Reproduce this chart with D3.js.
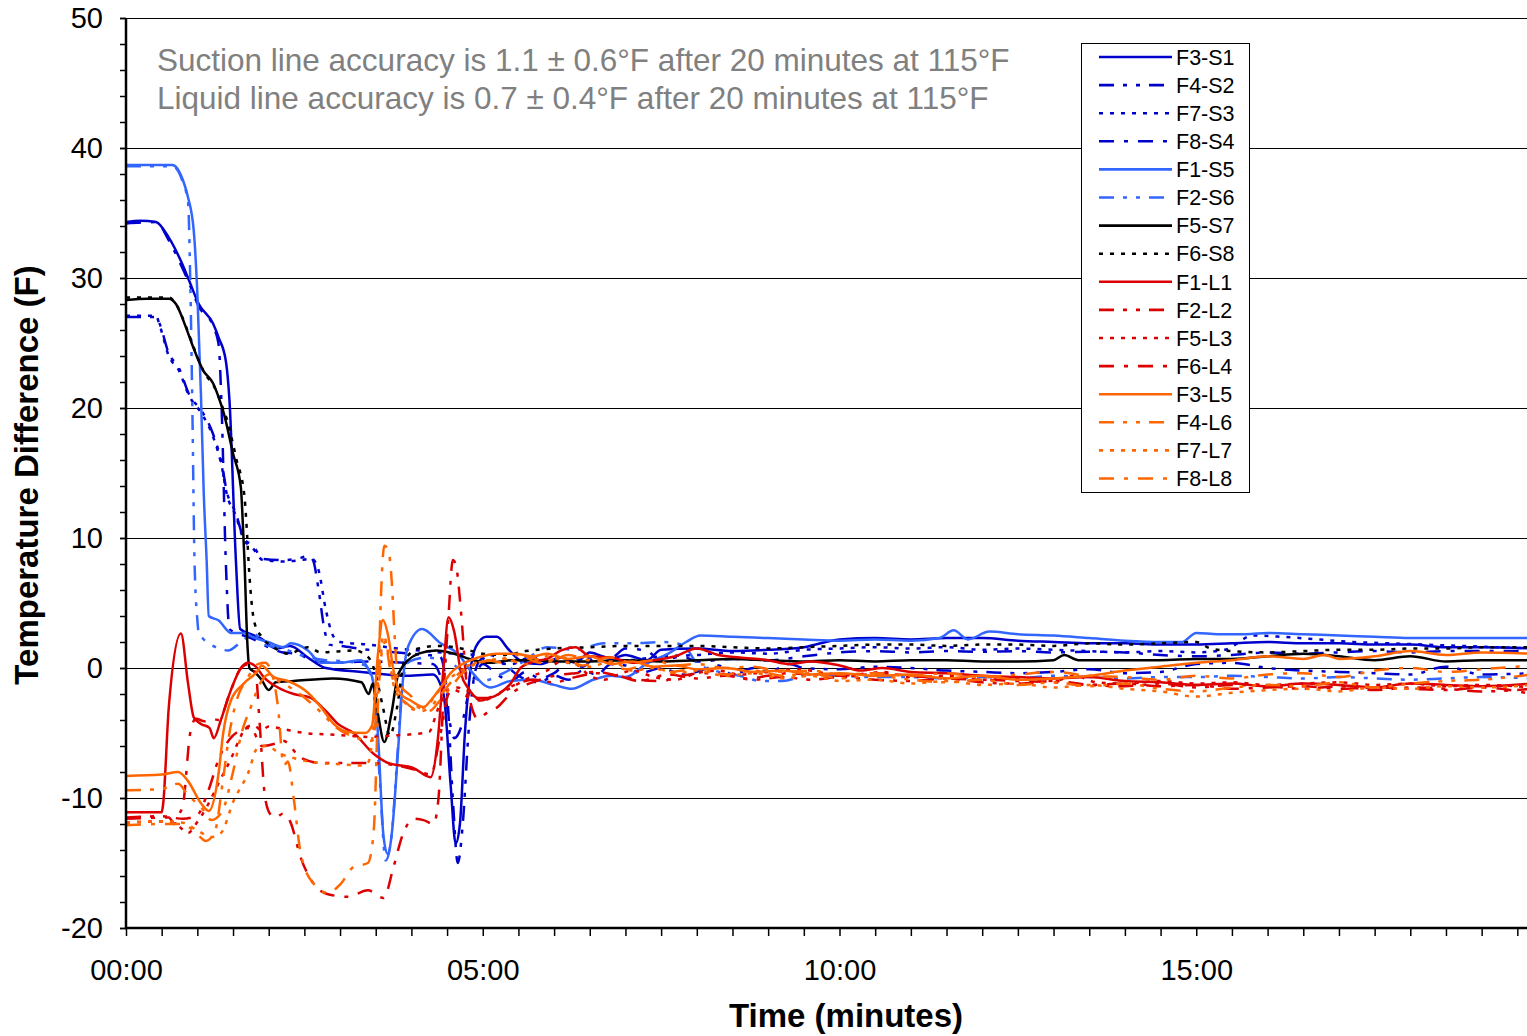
<!DOCTYPE html>
<html>
<head>
<meta charset="utf-8">
<script src="https://cdn.jsdelivr.net/npm/d3@7"></script>
<style>
body { margin: 0; background: #fff; }
svg { display: block; font-family: Arial, "Liberation Sans", sans-serif; }
</style>
</head>
<body>
<svg width="1527" height="1036"></svg>
<script>
const width = 1527;
const height = 1036;

// legend order
const seriesNames = ["F3-S1", "F4-S2", "F7-S3", "F8-S4", "F1-S5", "F2-S6", "F5-S7", "F6-S8",
    "F1-L1", "F2-L2", "F5-L3", "F6-L4", "F3-L5", "F4-L6", "F7-L7", "F8-L8"];

// [minutes, temperature difference F]
const f3s1 = [[0,34.3],[0.2,34.4],[0.42,34.3],[0.6,33.1],[0.77,31.3],[0.87,30.0],[1.02,28.0],[1.22,26.5],[1.3,25.4],[1.4,23.6],[1.45,20.6],[1.54,8.3],[1.6,3.0],[1.75,2.6],[1.9,2.25],[2.1,1.5],[2.3,1.7],[2.55,0.8],[2.8,0.0],[3.3,-0.3],[3.9,-0.6],[4.3,-0.5],[4.45,-2],[4.55,-9],[4.62,-13.5],[4.68,-12],[4.75,-5],[4.82,-0.5],[4.9,1.6],[5.05,2.4],[5.2,2.4],[5.35,1.5],[5.55,0.5],[5.8,0.3],[6.1,0.8],[6.3,0.4],[6.5,1.2],[6.8,0.7],[7,1.0],[7.3,0.6],[7.5,1.4],[8,1.5],[8.5,1.3],[9,1.4],[9.5,1.6],[10,2.2],[10.5,2.3],[11,2.2],[11.5,2.3],[12,2.3],[12.5,2.1],[13,2.0],[13.5,1.9],[14,1.9],[14.5,1.8],[15,1.8],[15.5,1.9],[16,2.0],[16.5,1.9],[17,1.9],[17.5,1.8],[18,1.8],[18.5,1.6],[19,1.6],[19.7,1.5]];
const f4s2 = [[0,27.0],[0.42,27.0],[0.47,26.5],[0.6,24.2],[0.74,23.1],[0.88,21.1],[1.08,19.6],[1.22,18.0],[1.36,15.2],[1.4,13.9],[1.54,11.9],[1.65,10.0],[1.78,9.4],[1.92,8.4],[2.2,8.3],[2.4,8.4],[2.55,8.6],[2.62,8.3],[2.7,6],[2.78,3],[2.85,1.8],[3.0,1.7],[3.4,1.4],[3.8,1.2],[4.2,1.0],[4.4,0.9],[4.5,-2],[4.58,-10],[4.65,-15.0],[4.72,-12],[4.8,-5],[4.87,-1],[4.95,0.5],[5.1,1.0],[5.3,0.3],[5.5,-0.6],[5.8,-1.1],[6.0,-0.6],[6.2,-0.9],[6.4,-0.2],[6.6,-0.5],[6.8,0.3],[7.0,0.2],[7.2,-0.4],[7.5,0.0],[7.8,-0.5],[8,-0.3],[8.3,0.2],[8.5,-0.5],[8.8,0.0],[9,-0.3],[9.3,0.3],[9.5,0.0],[10,-0.1],[10.5,0.1],[11,0.0],[11.5,-0.2],[12,-0.3],[12.5,-0.4],[13,-0.3],[13.5,-0.1],[14,-0.4],[14.5,-0.3],[15,0.3],[15.5,0.4],[16,0.0],[16.5,-0.2],[17,-0.3],[17.5,-0.4],[18,-0.5],[18.5,0.1],[19,-0.5],[19.7,-0.4]];
const f7s3 = [[0,27.1],[0.42,27.1],[0.47,26.4],[0.6,24.0],[0.74,22.9],[0.88,21.0],[1.08,19.4],[1.22,17.8],[1.36,15.0],[1.4,13.7],[1.54,11.7],[1.65,9.9],[1.78,9.2],[1.92,8.3],[2.2,8.2],[2.45,8.3],[2.6,8.4],[2.7,7.5],[2.8,4.5],[2.9,2.5],[3.0,2.0],[3.4,1.8],[3.8,1.5],[4.2,1.3],[4.6,1.1],[4.9,1.0],[5.1,0.5],[5.4,0.3],[5.7,0.9],[6.0,0.5],[6.5,0.8],[7,0.6],[7.5,0.9],[8,1.0],[8.5,1.2],[9,1.1],[9.5,1.4],[10,1.5],[10.5,1.6],[11,1.5],[11.5,1.6],[12,1.4],[12.5,1.5],[13,1.4],[13.5,1.3],[14,1.2],[14.5,1.3],[15,1.2],[15.4,1.4],[15.8,2.5],[16.2,2.4],[16.7,2.2],[17.2,2.0],[17.7,1.9],[18.2,1.8],[18.7,1.7],[19.2,1.6],[19.7,1.5]];
const f8s4 = [[0,34.2],[0.42,34.3],[0.6,32.9],[0.77,31.0],[0.87,29.8],[1.02,27.8],[1.22,26.3],[1.3,24.8],[1.34,20],[1.4,8],[1.45,3.0],[1.55,2.7],[1.75,2.3],[2.0,1.6],[2.2,1.2],[2.4,1.1],[2.6,0.6],[2.9,0.4],[3.4,0.5],[3.9,0.4],[4.3,0.3],[4.45,-1.5],[4.55,-4.5],[4.6,-5.4],[4.7,-4.5],[4.8,-2],[4.9,-0.5],[5.0,0.3],[5.2,-0.5],[5.4,-1.0],[5.6,-0.3],[5.8,-0.8],[6.0,-0.4],[6.2,0.4],[6.4,0.1],[6.6,0.9],[6.8,0.8],[7.0,1.5],[7.3,1.3],[7.5,0.6],[7.8,0.9],[8.0,0.5],[8.5,0.7],[9,0.6],[9.5,0.9],[10,1.2],[10.5,1.3],[11,1.2],[11.5,1.3],[12,1.25],[12.5,1.3],[13,1.2],[13.5,1.25],[14,1.2],[14.5,1.0],[15,0.9],[15.5,1.0],[16,1.2],[16.5,1.1],[17,1.2],[17.5,1.3],[18,1.2],[18.5,1.3],[19,1.3],[19.7,1.3]];
const f1s5 = [[0,38.7],[0.65,38.7],[0.8,37.5],[0.87,36.2],[0.95,33.6],[1.0,28.8],[1.05,21.1],[1.09,13.4],[1.13,8.3],[1.16,4.0],[1.3,3.65],[1.47,2.7],[1.65,2.7],[1.79,2.35],[1.99,2.0],[2.21,1.6],[2.31,1.9],[2.55,1.35],[2.73,0.4],[3.0,0.4],[3.29,0.6],[3.39,0.0],[3.45,-0.7],[3.53,-5],[3.61,-13],[3.67,-14.3],[3.73,-12.5],[3.81,-6.6],[3.88,-1.0],[3.95,1.6],[4.15,3.0],[4.41,1.9],[4.65,1.1],[4.83,-0.2],[5.11,-1.5],[5.39,-1.0],[5.7,-0.9],[6.0,-1.3],[6.25,-1.6],[6.55,-0.9],[6.8,-0.6],[7.0,-0.7],[7.3,0.35],[7.6,1.1],[7.85,2.0],[8.05,2.5],[8.5,2.4],[9.0,2.3],[9.5,2.2],[10,2.1],[10.5,2.2],[11,2.1],[11.4,2.3],[11.6,2.9],[11.8,2.2],[12.1,2.8],[12.5,2.6],[13,2.5],[13.5,2.3],[14,2.1],[14.5,2.0],[14.8,2.0],[15.0,2.7],[15.3,2.6],[15.7,2.6],[16.0,2.7],[16.5,2.6],[17,2.5],[17.5,2.4],[18,2.3],[18.5,2.3],[19,2.3],[19.7,2.3]];
const f2s6 = [[0,38.6],[0.65,38.6],[0.8,37.3],[0.87,35.8],[0.9,30],[0.93,20],[0.96,8.3],[1.0,3.7],[1.02,2.65],[1.08,2.25],[1.26,1.6],[1.43,1.35],[1.61,2.0],[1.79,2.65],[1.95,1.8],[2.2,1.5],[2.45,1.0],[2.8,0.6],[3.1,0.5],[3.35,0.2],[3.45,-1],[3.55,-8],[3.64,-14.8],[3.72,-13],[3.8,-7],[3.88,-1],[3.97,0.5],[4.2,0.8],[4.5,0.5],[4.8,-0.5],[5.0,-1.0],[5.25,-0.5],[5.6,0.6],[5.9,1.6],[6.3,1.4],[6.7,1.9],[7.1,1.9],[7.5,2.0],[7.8,1.8],[8.0,0.4],[8.25,-0.2],[8.6,-0.6],[8.9,-1.0],[9.2,-1.0],[9.6,-0.5],[10,-0.6],[10.5,-0.7],[11,-0.7],[11.5,-0.8],[12,-0.7],[12.5,-0.8],[13,-0.6],[13.5,-0.7],[14,-0.8],[14.5,-0.7],[15,-0.7],[15.5,-0.6],[16,-0.7],[16.5,-0.8],[17,-0.7],[17.5,-0.8],[18,-0.9],[18.5,-0.8],[19,-0.7],[19.7,-0.8]];
const f5s7 = [[0,28.3],[0.3,28.4],[0.6,28.4],[0.7,28.0],[0.84,26.2],[0.94,24.7],[1.08,22.9],[1.22,21.9],[1.3,20.8],[1.37,19.6],[1.5,16.5],[1.61,13.9],[1.64,10.8],[1.66,8.3],[1.7,2],[1.73,0],[1.8,-0.3],[1.9,-0.9],[2.0,-1.7],[2.1,-1.1],[2.35,-1.0],[2.9,-0.8],[3.3,-1.1],[3.4,-2.0],[3.46,-1.2],[3.53,-3.5],[3.62,-5.7],[3.72,-3.5],[3.82,-0.4],[4.1,1.1],[4.35,1.35],[4.6,1.1],[4.87,0.6],[5.1,0.4],[5.4,0.6],[5.7,0.6],[6,0.5],[6.5,0.5],[7,0.6],[7.5,0.5],[8,0.6],[8.5,0.7],[9,0.6],[9.5,0.5],[10,0.6],[10.5,0.5],[11,0.6],[11.5,0.6],[12,0.5],[12.5,0.5],[13,0.6],[13.15,1.0],[13.35,0.6],[14,0.6],[14.5,0.6],[15,0.7],[15.5,0.7],[16,0.9],[16.5,1.1],[17,0.9],[17.5,0.6],[18,0.9],[18.5,0.5],[19,0.6],[19.7,0.6]];
const f6s8 = [[0,28.5],[0.6,28.5],[0.72,27.8],[0.86,26.0],[0.96,24.5],[1.1,22.7],[1.24,21.6],[1.33,20.4],[1.42,19.0],[1.55,16.0],[1.66,13.2],[1.7,10.0],[1.72,8.0],[1.8,3.5],[1.9,2.4],[2.07,1.6],[2.27,1.1],[2.55,1.6],[2.73,1.2],[3.2,1.35],[3.4,0.8],[3.5,-0.5],[3.6,-3],[3.7,-5.2],[3.8,-3],[3.9,0.5],[4.1,1.5],[4.4,1.7],[4.7,1.5],[5.0,1.1],[5.3,1.0],[5.6,1.3],[6.0,1.5],[6.5,1.6],[7,1.7],[7.5,1.7],[8,1.7],[8.5,1.6],[9,1.5],[9.5,1.6],[10,1.7],[10.5,1.8],[11,1.8],[11.5,1.7],[12,1.8],[12.5,1.8],[13,1.7],[13.5,1.9],[14,1.8],[14.5,1.9],[15,2.0],[15.2,1.5],[15.5,1.3],[16,1.2],[16.5,1.3],[17,1.4],[17.5,1.4],[18,1.5],[18.5,1.5],[19,1.6],[19.7,1.6]];
const f1l1 = [[0,-11.1],[0.5,-11.1],[0.52,-10.5],[0.6,-3],[0.77,2.65],[0.87,-1.2],[0.95,-3.8],[1.05,-4.3],[1.17,-4.6],[1.23,-5.4],[1.33,-4.0],[1.47,-1.7],[1.61,0],[1.71,0.4],[1.82,0.1],[1.93,-0.7],[2.13,-1.5],[2.35,-2.0],[2.59,-2.3],[2.8,-3.3],[2.97,-4.3],[3.19,-5.0],[3.47,-6.6],[3.67,-7.3],[4.03,-7.7],[4.27,-8.4],[4.37,-5.5],[4.45,0],[4.52,3.9],[4.6,2.8],[4.7,-0.5],[4.79,-1.5],[4.93,-2.3],[5.07,-2.3],[5.25,-1.9],[5.39,-1.2],[5.53,0],[5.72,0.5],[5.9,0.7],[6.1,1.35],[6.3,1.6],[6.5,0.9],[6.8,0.8],[7.1,0.4],[7.4,0.6],[7.7,0.9],[8.0,1.5],[8.3,1.0],[8.6,0.8],[9.0,0.6],[9.3,0.3],[9.6,0.5],[10,0.2],[10.3,-0.2],[10.6,0.0],[11,-0.3],[11.5,-0.4],[12,-0.6],[12.5,-0.7],[13,-0.8],[13.5,-0.7],[14,-1.0],[14.5,-1.1],[15,-1.3],[15.5,-1.2],[16,-1.4],[16.5,-1.2],[17,-1.3],[17.5,-1.5],[18,-1.2],[18.5,-1.3],[19,-1.4],[19.7,-1.2]];
const f2l2 = [[0,-11.5],[0.5,-11.4],[0.8,-11.6],[1.0,-11.3],[1.15,-9.5],[1.3,-7.0],[1.45,-5.5],[1.6,-4.8],[1.75,-4.6],[1.9,-6.0],[2.1,-5.8],[2.2,-5.6],[2.45,-6.9],[2.73,-7.3],[3.2,-7.3],[3.67,-7.4],[4.03,-7.8],[4.27,-8.2],[4.41,-5],[4.52,-2.0],[4.65,-1.5],[4.8,-2.3],[4.97,-2.5],[5.2,-2.0],[5.45,-1.3],[5.7,-0.9],[6.0,-1.1],[6.3,-0.7],[6.6,-0.4],[6.9,-0.6],[7.2,-1.0],[7.6,-0.5],[8.0,-0.8],[8.4,-0.6],[8.8,-0.9],[9.2,-0.7],[9.6,-0.9],[10,-0.7],[10.5,-0.9],[11,-1.0],[11.5,-0.8],[12,-1.1],[12.5,-1.2],[13,-1.0],[13.5,-1.3],[14,-1.4],[14.5,-1.2],[15,-1.5],[15.5,-1.3],[16,-1.4],[16.5,-1.6],[17,-1.4],[17.5,-1.7],[18,-1.5],[18.5,-1.6],[19,-1.8],[19.7,-1.6]];
const f5l3 = [[0,-11.9],[0.5,-11.8],[0.7,-12.0],[0.87,-12.7],[0.98,-12.0],[1.15,-10.5],[1.33,-8.5],[1.47,-7.0],[1.58,-5.6],[1.68,-4.6],[1.79,-4.4],[1.9,-4.8],[2.0,-4.5],[2.2,-4.7],[2.5,-5.0],[2.8,-5.1],[3.1,-5.2],[3.4,-5.3],[3.7,-5.2],[4.0,-5.1],[4.25,-4.9],[4.35,-3.5],[4.45,-2.0],[4.55,-1.6],[4.7,-1.9],[4.85,-2.2],[5.0,-2.5],[5.15,-2.2],[5.3,-1.8],[5.5,-1.2],[5.7,-0.6],[5.9,-0.2],[6.1,0.5],[6.3,0.3],[6.5,-0.6],[6.7,-0.9],[6.9,-0.5],[7.1,-0.2],[7.4,-0.7],[7.7,-0.9],[8.0,-0.4],[8.3,-0.2],[8.6,-0.5],[9.0,-0.3],[9.4,-0.1],[9.8,-0.4],[10.2,-0.6],[10.6,-0.3],[11,-0.7],[11.5,-0.6],[12,-0.9],[12.5,-0.8],[13,-1.0],[13.3,-0.6],[13.6,-1.1],[14,-1.2],[14.5,-1.0],[15,-1.2],[15.5,-1.1],[16,-1.3],[16.5,-1.2],[17,-1.1],[17.5,-1.3],[18,-1.2],[18.5,-1.4],[19,-1.3],[19.7,-1.5]];
const f6l4 = [[0,-11.6],[0.6,-11.5],[0.68,-12.0],[0.75,-11.2],[0.8,-10.5],[0.9,-5],[0.98,-3.9],[1.1,-4.1],[1.2,-3.9],[1.3,-4.0],[1.45,-2],[1.6,-0.1],[1.71,0.3],[1.82,-0.5],[1.87,-4],[1.95,-10],[2.03,-11.3],[2.1,-11.5],[2.2,-11.2],[2.3,-11.8],[2.45,-14.6],[2.63,-16.6],[2.83,-17.4],[3.11,-17.6],[3.39,-17.1],[3.61,-17.7],[3.75,-15.3],[3.88,-12.8],[4.03,-11.6],[4.17,-11.7],[4.31,-12.0],[4.38,-10],[4.45,-2],[4.52,4],[4.58,8.3],[4.62,8.0],[4.7,4],[4.77,-1],[4.83,-2.7],[4.93,-3.9],[5.07,-3.4],[5.21,-3.0],[5.35,-2.2],[5.53,-1.5],[5.75,-1.0],[6.0,-0.6],[6.3,-0.4],[6.6,-0.3],[6.9,-0.6],[7.2,-0.9],[7.5,-1.0],[7.8,-0.6],[8.1,-0.4],[8.4,-0.5],[8.7,-0.8],[9,-0.6],[9.3,-0.4],[9.6,-0.5],[10,-0.6],[10.5,-0.4],[11,-0.6],[11.5,-0.8],[12,-0.9],[12.5,-1.0],[13,-1.1],[13.5,-1.3],[14,-1.2],[14.5,-1.4],[15,-1.3],[15.5,-1.6],[16,-1.5],[16.5,-1.4],[17,-1.6],[17.5,-1.5],[18,-1.6],[18.5,-1.7],[19,-1.5],[19.7,-2.0]];
const f3l5 = [[0,-8.3],[0.5,-8.2],[0.73,-8.0],[0.87,-8.7],[1.05,-10.4],[1.16,-11.0],[1.3,-8],[1.36,-5.1],[1.47,-2.5],[1.65,-1.2],[1.85,-0.2],[1.9,0.2],[2.07,-0.7],[2.27,-1.0],[2.55,-1.9],[2.73,-3.0],[2.91,-4.3],[3.1,-4.9],[3.35,-5.0],[3.45,-4.4],[3.53,1.0],[3.6,3.7],[3.67,2.6],[3.75,-0.2],[3.85,-2.0],[3.99,-2.5],[4.17,-3.0],[4.27,-2.5],[4.41,-1.5],[4.55,-0.4],[4.73,0.35],[4.93,0.8],[5.2,1.1],[5.45,1.1],[5.7,0.9],[5.9,1.1],[6.2,0.7],[6.5,0.9],[6.8,0.3],[7.1,0.5],[7.4,0.1],[7.7,0.2],[8.0,-0.1],[8.4,0.0],[8.8,-0.3],[9.2,-0.2],[9.6,-0.5],[10,-0.4],[10.5,-0.6],[11,-0.5],[11.5,-0.8],[12,-0.6],[12.5,-0.9],[13,-0.8],[13.5,-0.6],[14,-0.2],[14.5,0.1],[15,0.4],[15.5,0.6],[16,0.9],[16.5,0.7],[16.8,1.0],[17,0.7],[17.5,0.9],[18,1.3],[18.5,1.0],[19,1.2],[19.7,1.1]];
const f4l6 = [[0,-9.4],[0.5,-9.3],[0.73,-8.9],[0.87,-9.8],[1.05,-10.7],[1.2,-11.7],[1.35,-11],[1.5,-8],[1.62,-5],[1.75,-3],[1.9,-1.0],[2.0,-0.5],[2.13,-1.0],[2.3,-1.5],[2.55,-2.5],[2.75,-3.5],[2.95,-4.6],[3.2,-5.3],[3.45,-5.6],[3.52,-3],[3.58,1],[3.63,2],[3.7,0],[3.8,-1.8],[3.95,-2.8],[4.15,-3.3],[4.3,-2.8],[4.45,-1.8],[4.6,-0.8],[4.8,0.2],[5.0,0.5],[5.2,0.6],[5.5,1.0],[5.8,0.4],[6.1,0.8],[6.4,0.2],[6.7,0.6],[7.0,-0.1],[7.3,0.2],[7.6,-0.3],[8.0,-0.1],[8.4,-0.5],[8.8,-0.2],[9.2,-0.6],[9.6,-0.4],[10,-0.8],[10.5,-0.6],[11,-0.9],[11.5,-1.1],[12,-0.9],[12.5,-1.3],[13,-1.1],[13.5,-1.4],[14,-1.2],[14.5,-1.6],[15,-1.8],[15.5,-1.5],[16,-1.3],[16.5,-1.4],[17,-1.1],[17.5,-1.5],[18,-1.2],[18.5,-1.0],[19,-0.9],[19.7,-0.5]];
const f7l7 = [[0,-11.9],[0.5,-11.8],[0.8,-11.9],[1.0,-12.5],[1.2,-13.0],[1.33,-12.7],[1.51,-10.2],[1.71,-8.1],[1.85,-6.1],[1.99,-6.0],[2.13,-6.5],[2.4,-7.0],[2.7,-7.3],[3.0,-7.4],[3.3,-7.5],[3.4,-7.2],[3.48,-4],[3.55,0],[3.61,2.5],[3.68,1],[3.76,-1.5],[3.88,-2.5],[4.05,-3.2],[4.2,-3.0],[4.35,-2],[4.5,-1],[4.7,-0.2],[4.9,0.3],[5.1,0.6],[5.3,0.7],[5.6,0.3],[5.9,0.9],[6.2,0.4],[6.5,0.1],[6.8,0.5],[7.1,-0.2],[7.4,0.0],[7.7,-0.4],[8.0,-0.2],[8.4,-0.6],[8.8,-0.4],[9.2,-0.8],[9.6,-0.6],[10,-1.0],[10.5,-0.9],[11,-1.2],[11.5,-1.0],[12,-1.3],[12.5,-1.2],[13,-1.5],[13.5,-1.3],[14,-1.6],[14.5,-1.8],[15,-2.2],[15.5,-1.9],[16,-1.7],[16.5,-1.6],[17,-1.8],[17.5,-1.5],[18,-1.6],[18.5,-1.4],[19,-1.5],[19.7,-1.3]];
const f8l8 = [[0,-12.1],[0.5,-12.0],[0.8,-12.0],[1.0,-12.8],[1.12,-13.3],[1.25,-12.5],[1.35,-9],[1.45,-5],[1.55,-2.5],[1.7,-0.8],[1.85,0.3],[1.95,0.4],[2.05,-0.5],[2.13,-3],[2.21,-7.5],[2.27,-7.2],[2.35,-10],[2.45,-14.3],[2.63,-16.6],[2.83,-17.3],[3.01,-16.6],[3.19,-15.3],[3.39,-15.0],[3.47,-12.7],[3.53,-3],[3.57,5],[3.62,9.4],[3.68,9.0],[3.72,7],[3.77,2],[3.81,-1.0],[3.88,-1.6],[4.0,-2.2],[4.09,-3.0],[4.25,-3.3],[4.4,-2.5],[4.55,-1.5],[4.7,-0.5],[4.87,0.3],[5.05,0.6],[5.3,0.4],[5.6,0.9],[5.9,0.5],[6.2,1.0],[6.5,0.6],[6.8,0.8],[7.1,0.4],[7.4,0.6],[7.7,0.2],[8.0,0.3],[8.4,0.0],[8.8,0.1],[9.2,-0.3],[9.6,-0.2],[10,-0.5],[10.5,-0.4],[11,-0.6],[11.5,-0.4],[12,-0.7],[12.5,-0.5],[13,-0.3],[13.5,-0.6],[14,-0.7],[14.5,-0.9],[15,-0.6],[15.5,-0.8],[16,-0.5],[16.5,-0.4],[17,-0.7],[17.5,-0.2],[18,0.0],[18.5,-0.3],[19,-0.1],[19.7,0.2]];

const seriesValues = [f3s1, f4s2, f7s3, f8s4, f1s5, f2s6, f5s7, f6s8,
    f1l1, f2l2, f5l3, f6l4, f3l5, f4l6, f7l7, f8l8];

const yTicks = [-20, -10, 0, 10, 20, 30, 40, 50];
const yTickLabels = ["-20", "-10", "0", "10", "20", "30", "40", "50"];
const xTicks = [0, 5, 10, 15];
const xTickLabels = ["00:00", "05:00", "10:00", "15:00"];
const notes = ["Suction line accuracy is 1.1 \u00b1 0.6\u00b0F after 20 minutes at 115\u00b0F",
    "Liquid line accuracy is 0.7 \u00b1 0.4\u00b0F after 20 minutes at 115\u00b0F"];

// styles
const darkBlue = "#0000cc", lightBlue = "#3366ff", red = "#dd0000", orange = "#ff6600";
const dashes = {
    solid: null,
    dashDotDot: "15,9,4,9,4,9",
    dot: "4,7",
    dashDot: "15,10,4,10"
};
const styles = [
    [darkBlue, "solid"], [darkBlue, "dashDotDot"], [darkBlue, "dot"], [darkBlue, "dashDot"],
    [lightBlue, "solid"], [lightBlue, "dashDotDot"], ["#000", "solid"], ["#000", "dot"],
    [red, "solid"], [red, "dashDotDot"], [red, "dot"], [red, "dashDot"],
    [orange, "solid"], [orange, "dashDotDot"], [orange, "dot"], [orange, "dashDot"]
];

const svg = d3.select("svg")
    .attr("viewBox", [0, 0, width, height]);

const x = d3.scaleLinear().domain([0, 20]).range([126, 1553]);
const y = d3.scaleLinear().domain([-20, 50]).range([928, 18]);

// gridlines
svg.append("g")
    .selectAll("line")
    .data(yTicks.slice(1))
    .join("line")
    .attr("x1", 126).attr("x2", width)
    .attr("y1", d => y(d) + 0.5).attr("y2", d => y(d) + 0.5)
    .attr("stroke", "#000")
    .attr("stroke-width", 1);

// annotation
svg.append("g")
    .selectAll("text")
    .data(notes)
    .join("text")
    .attr("x", 157)
    .attr("y", (d, i) => 71 + i * 38)
    .attr("fill", "#808080")
    .attr("font-size", 31.5)
    .text(d => d);

// series lines
svg.append("clipPath").attr("id", "plot")
    .append("rect").attr("x", 126).attr("y", 18).attr("width", width - 126).attr("height", 910);

const line = d3.line()
    .x(d => x(d[0]))
    .y(d => y(d[1]))
    .curve(d3.curveMonotoneX);

svg.append("g")
    .attr("clip-path", "url(#plot)")
    .selectAll("path")
    .data(seriesValues)
    .join("path")
    .attr("fill", "none")
    .attr("stroke", (d, i) => styles[i][0])
    .attr("stroke-width", 2.5)
    .attr("stroke-dasharray", (d, i) => dashes[styles[i][1]])
    .attr("stroke-linejoin", "round")
    .attr("d", line);

// y axis
const yMinor = svg.append("g")
    .attr("transform", "translate(126,0)")
    .call(d3.axisLeft(y).tickValues(d3.range(-20, 51, 2)).tickSize(6).tickFormat(""));
yMinor.select(".domain").remove();
yMinor.selectAll("line").attr("stroke-width", 1.5);

const yAxis = svg.append("g")
    .attr("transform", "translate(126,0)")
    .call(d3.axisLeft(y).tickValues(yTicks).tickSize(6).tickPadding(17)
        .tickFormat((d, i) => yTickLabels[i]));
yAxis.select(".domain").remove();
yAxis.selectAll("line").attr("stroke-width", 1.5);
yAxis.selectAll("text")
    .attr("font-size", 29)
    .attr("font-family", "Arial, 'Liberation Sans', sans-serif")
    .attr("fill", "#000");

// x axis
const xMinor = svg.append("g")
    .attr("transform", "translate(0,928)")
    .call(d3.axisBottom(x).tickValues(d3.range(0, 20, 0.5)).tickSize(8).tickFormat(""));
xMinor.select(".domain").remove();
xMinor.selectAll("line").attr("stroke-width", 1.5);

const xAxis = svg.append("g")
    .attr("transform", "translate(0,928)")
    .call(d3.axisBottom(x).tickValues(xTicks).tickSize(0).tickPadding(31)
        .tickFormat((d, i) => xTickLabels[i]));
xAxis.select(".domain").remove();
xAxis.selectAll("text")
    .attr("font-size", 29)
    .attr("font-family", "Arial, 'Liberation Sans', sans-serif")
    .attr("fill", "#000");

// axis lines
svg.append("line")
    .attr("x1", 126).attr("x2", 126).attr("y1", 18).attr("y2", 929)
    .attr("stroke", "#000").attr("stroke-width", 2.5);
svg.append("line")
    .attr("x1", 125).attr("x2", width).attr("y1", 928).attr("y2", 928)
    .attr("stroke", "#000").attr("stroke-width", 2.5);

// axis titles
svg.append("text")
    .attr("transform", "translate(38,475) rotate(-90)")
    .attr("text-anchor", "middle")
    .attr("font-size", 33)
    .attr("font-weight", "bold")
    .text("Temperature Difference (F)");

svg.append("text")
    .attr("x", 846)
    .attr("y", 1027)
    .attr("text-anchor", "middle")
    .attr("font-size", 33)
    .attr("font-weight", "bold")
    .text("Time (minutes)");

// legend
const legend = svg.append("g");
legend.append("rect")
    .attr("x", 1081.5).attr("y", 43.5)
    .attr("width", 168).attr("height", 449)
    .attr("fill", "#fff")
    .attr("stroke", "#000")
    .attr("stroke-width", 1);

const item = legend.selectAll("g.item")
    .data(seriesNames)
    .join("g")
    .attr("class", "item")
    .attr("transform", (d, i) => `translate(0,${57 + i * 28.1})`);

item.append("line")
    .attr("x1", 1099).attr("x2", 1172)
    .attr("stroke", (d, i) => styles[i][0])
    .attr("stroke-width", 2.6)
    .attr("stroke-dasharray", (d, i) => dashes[styles[i][1]]);

item.append("text")
    .attr("x", 1176)
    .attr("dy", "0.36em")
    .attr("font-size", 21.5)
    .text(d => d);
</script>
</body>
</html>
